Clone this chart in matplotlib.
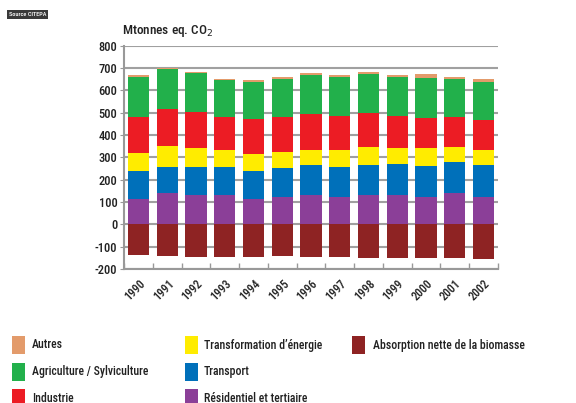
import matplotlib
matplotlib.use("Agg")
import matplotlib.pyplot as plt
from matplotlib.patches import Rectangle
import numpy as np

FONT = ['Liberation Sans Narrow', 'Roboto Condensed', 'Open Sans Condensed', 'DejaVu Sans Condensed', 'Lato', 'DejaVu Sans']
plt.rcParams['font.family'] = FONT
plt.rcParams['font.weight'] = 'medium'

years = ['1990', '1991', '1992', '1993', '1994', '1995', '1996',
         '1997', '1998', '1999', '2000', '2001', '2002']
residentiel = [113, 139, 131, 130, 115, 122, 131, 124, 131, 131, 124, 139, 124]
transport = [125, 119, 124, 125, 125, 131, 133, 134, 134, 137, 138, 140, 141]
transformation = [81, 95, 89, 76, 74, 69, 71, 73, 81, 75, 78, 67, 70]
industrie = [161, 162, 159, 149, 157, 158, 161, 155, 154, 140, 135, 134, 133]
agriculture = [178, 179, 173, 167, 168, 172, 172, 172, 175, 175, 179, 170, 171]
autres = [11, 8, 8, 5, 8, 9, 8, 11, 6, 11, 18, 11, 10]
absorption = [-137, -142, -145, -145, -145, -142, -148, -148, -150, -150, -150, -150, -156]

pos_series = [
    ('Résidentiel et tertiaire', residentiel, '#8B3F98'),
    ('Transport', transport, '#0070BA'),
    ('Transformation d\u2019énergie', transformation, '#FFEC00'),
    ('Industrie', industrie, '#EC1C24'),
    ('Agriculture / Sylviculture', agriculture, '#22B04B'),
    ('Autres', autres, '#E39B6B'),
]
neg_label, neg_color = 'Absorption nette de la biomasse', '#8E2323'

W, H = 576, 403
fig = plt.figure(figsize=(W / 100, H / 100), dpi=100)
ax = fig.add_axes([124.3 / W, (H - 269) / H, (497.7 - 124.3) / W, (269 - 45.7) / H])

x = np.arange(len(years))
bw = 0.74
bottom = np.zeros(len(years))
for label, vals, col in pos_series:
    v = np.array(vals, dtype=float)
    ax.bar(x, v, bw, bottom=bottom, color=col, linewidth=0, zorder=3)
    bottom += v
ax.bar(x, absorption, bw, color=neg_color, linewidth=0, zorder=3)

ax.set_xlim(-0.5, len(years) - 0.5)
ax.set_ylim(-200, 800)
yt = np.arange(-200, 801, 100)
ax.set_yticks(yt)
ax.set_yticklabels([str(v) for v in yt], fontsize=9, color='#222222', fontweight='medium')
ax.yaxis.grid(True, color='#a0a0a0', linewidth=1.5, zorder=0)
ax.set_axisbelow(True)
for s in ['top', 'right']:
    ax.spines[s].set_visible(False)
for s in ['left', 'bottom']:
    ax.spines[s].set_color('#999999')
    ax.spines[s].set_linewidth(1.5)
ax.tick_params(axis='y', length=3, color='#999999', pad=2)

ax.set_xticks(x)
ax.set_xticklabels(years, rotation=45, ha='right', rotation_mode='anchor',
                   fontsize=8.5, color='#222222', fontweight='medium')
ax.tick_params(axis='x', which='major', length=0, pad=6)
ax.set_xticks(np.arange(-0.5, len(years), 1), minor=True)
ax.tick_params(axis='x', which='minor', direction='in', length=4, color='#999999', width=1)

fig.text(122 / W, 1 - 31 / H, 'Mtonnes eq. CO$_2$', fontsize=9.5, color='#222222',
         va='center', ha='left', fontweight='medium')

fig.text(9 / W, 1 - 14.5 / H, 'Source CITEPA', fontsize=4.5, color='white',
         va='center', ha='left',
         bbox=dict(facecolor='#3a3a3a', edgecolor='none', pad=1.2))

# legend (manual layout)
legend_items = [
    ('Autres', '#E39B6B'),
    ('Agriculture / Sylviculture', '#22B04B'),
    ('Industrie', '#EC1C24'),
    ('Transformation d\u2019énergie', '#FFEC00'),
    ('Transport', '#0070BA'),
    ('Résidentiel et tertiaire', '#8B3F98'),
    (neg_label, neg_color),
]
cols_px = [(12, 32), (185, 204), (352, 373)]
rows_px = [345, 372, 398]
for i, (lab, col) in enumerate(legend_items):
    c, r = divmod(i, 3)
    px, tx = cols_px[c]
    cy = rows_px[r]
    fig.add_artist(Rectangle((px / W, 1 - (cy + 9) / H), 13 / W, 18 / H,
                             transform=fig.transFigure, facecolor=col,
                             edgecolor='none'))
    fig.text(tx / W, 1 - cy / H, lab, fontsize=8.5, color='#222222',
             va='center', ha='left', fontweight='medium')

fig.savefig('out.png', dpi=100)
